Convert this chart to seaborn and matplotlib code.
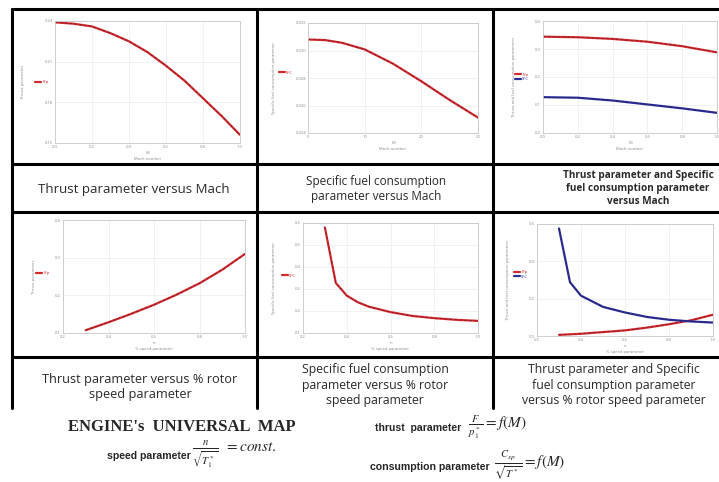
#!/usr/bin/env python3
#===============================================================================
# plot.py
#===============================================================================

# Imports ======================================================================

import argparse
import matplotlib
matplotlib.use('Agg')
import matplotlib.pyplot as plt
import seaborn as sns


# Data =========================================================================

MACH = [0.0, 0.1, 0.2, 0.3, 0.4, 0.5, 0.6, 0.7, 0.8, 0.9, 1.0]
THRUST_MACH = [0.239, 0.238, 0.236, 0.231, 0.225, 0.217, 0.207, 0.196,
               0.183, 0.170, 0.156]

SFC_X = [0, 3, 6, 10, 15, 20, 25, 30]
SFC_MACH = [0.0308, 0.03076, 0.03056, 0.03008, 0.02904, 0.02776, 0.0264,
            0.02512]

MACH_BOTH = [0.0, 0.2, 0.4, 0.6, 0.8, 1.0]
THRUST_BOTH = [0.344, 0.342, 0.336, 0.326, 0.310, 0.288]
SFC_BOTH = [0.128, 0.126, 0.116, 0.102, 0.088, 0.072]

SPEED = [0.3, 0.4, 0.5, 0.6, 0.7, 0.8, 0.9, 1.0]
THRUST_SPEED = [0.1075, 0.1285, 0.151, 0.175, 0.202, 0.232, 0.268, 0.310]

SPEED_SFC = [0.3, 0.35, 0.4, 0.45, 0.5, 0.6, 0.7, 0.8, 0.9, 1.0]
SFC_SPEED = [0.58, 0.3275, 0.27, 0.24, 0.22, 0.195, 0.1775, 0.1675, 0.16,
             0.155]

SPEED_BOTH = [0.3, 0.35, 0.4, 0.5, 0.6, 0.7, 0.8, 0.9, 1.0]
THRUST_SPEED_BOTH = [0.006, 0.009, 0.012, 0.021, 0.030, 0.045, 0.063, 0.084,
                     0.114]
SFC_SPEED_BOTH = [0.576, 0.288, 0.216, 0.156, 0.126, 0.102, 0.087, 0.078,
                  0.072]

CAPTIONS = [
    'Thrust parameter versus Mach',
    'Specific fuel consumption\nparameter versus Mach',
    'Thrust parameter and Specific\nfuel consumption parameter\nversus Mach',
    'Thrust parameter versus % rotor\nspeed parameter',
    'Specific fuel consumption\nparameter versus % rotor\nspeed parameter',
    'Thrust parameter and Specific\nfuel consumption parameter\n'
    'versus % rotor speed parameter',
]

RED = '#d42a2f'
BLUE = '#2b2f9e'
W, H = 719, 482


# Functions ====================================================================

def parse_arguments():
    parser = argparse.ArgumentParser(description='engine universal map')
    parser.add_argument('file', nargs='?', default='out.png',
                        help='path to output file')
    return parser.parse_args()


def box(left, top, right, bottom):
    # pixel box -> figure fraction
    return [left / W, 1 - bottom / H, (right - left) / W, (bottom - top) / H]


def curve(ax, x, y, color, label):
    sns.lineplot(x=x, y=y, ax=ax, color=color, linewidth=1.6, label=label)
    sns.lineplot(x=x, y=y, ax=ax, color='#301018', linewidth=0.5,
                 linestyle=(0, (4, 3)), alpha=0.6)


def panel(fig, rect, series, xticks, yticks, xlabel, ylabel, leg_xy):
    ax = fig.add_axes(rect)
    for x, y, color, label in series:
        curve(ax, x, y, color, label)
    ax.set_xlim(xticks[0], xticks[-1])
    ax.set_ylim(yticks[0], yticks[-1])
    ax.set_xticks(xticks)
    ax.set_yticks(yticks)
    ax.tick_params(labelsize=3, colors='#888888', length=0, pad=1.5)
    ax.grid(color='#ececec', linewidth=0.5)
    for s in ax.spines.values():
        s.set_color('#c8c8c8')
        s.set_linewidth(0.6)
    ax.set_xlabel(xlabel, fontsize=3, color='#888888', labelpad=1.5,
                  linespacing=1.6)
    ax.set_ylabel(ylabel, fontsize=3, color='#888888', labelpad=14)
    handles, labels = ax.get_legend_handles_labels()
    leg = ax.legend(handles, labels, loc='center', bbox_to_anchor=leg_xy,
                    frameon=False, fontsize=3, handlelength=1.4,
                    handletextpad=0.3, labelspacing=0.2, borderpad=0)
    for t, c in zip(leg.get_texts(), [s[2] for s in series]):
        t.set_color(c)
    return ax


def main():
    args = parse_arguments()
    sns.set_theme(style='whitegrid')
    plt.rcParams['font.family'] = ['Open Sans', 'DejaVu Sans']
    plt.rcParams['mathtext.fontset'] = 'stix'
    fig = plt.figure(figsize=(W / 100, H / 100), dpi=100)
    fig.patch.set_facecolor('white')

    mach_x = 'M\nMach number'
    speed_x = 'n\n% speed parameter'
    panel(fig, box(55, 21, 240, 143),
          [(MACH, THRUST_MACH, RED, 'F/p')],
          [0, 0.2, 0.4, 0.6, 0.8, 1], [0.15, 0.18, 0.21, 0.24],
          mach_x, 'Thrust parameter', (-0.07, 0.5))
    panel(fig, box(308, 23, 478, 133),
          [(SFC_X, SFC_MACH, RED, 'SFC')],
          [0, 10, 20, 30], [0.024, 0.026, 0.028, 0.030, 0.032],
          mach_x, 'Specific fuel consumption parameter', (-0.13, 0.55))
    panel(fig, box(543, 21, 717, 133),
          [(MACH_BOTH, THRUST_BOTH, RED, 'F/p'),
           (MACH_BOTH, SFC_BOTH, BLUE, 'SFC')],
          [0, 0.2, 0.4, 0.6, 0.8, 1], [0, 0.1, 0.2, 0.3, 0.4],
          mach_x, 'Thrust and fuel consumption parameters', (-0.12, 0.5))
    panel(fig, box(63, 220, 245, 333),
          [(SPEED, THRUST_SPEED, RED, 'F/p')],
          [0.2, 0.4, 0.6, 0.8, 1], [0.1, 0.2, 0.3, 0.4],
          speed_x, 'Thrust parameter', (-0.11, 0.53))
    panel(fig, box(303, 223, 478, 333),
          [(SPEED_SFC, SFC_SPEED, RED, 'SFC')],
          [0.2, 0.4, 0.6, 0.8, 1], [0.1, 0.2, 0.3, 0.4, 0.5, 0.6],
          speed_x, 'Specific fuel consumption parameter', (-0.08, 0.52))
    panel(fig, box(537, 224, 713, 336),
          [(SPEED_BOTH, THRUST_SPEED_BOTH, RED, 'F/p'),
           (SPEED_BOTH, SFC_SPEED_BOTH, BLUE, 'SFC')],
          [0.2, 0.4, 0.6, 0.8, 1], [0, 0.2, 0.4, 0.6],
          speed_x, 'Thrust and fuel consumption parameters', (-0.09, 0.55))

    # table grid
    line = dict(color='black', linewidth=2.2, transform=None)
    for y in (9, 164, 212, 357):
        fig.add_artist(plt.Line2D([12, W], [H - y, H - y], **line))
    for x in (12, 257, 493):
        fig.add_artist(plt.Line2D([x, x], [H - 9, H - 408], **line))

    # captions
    cap = dict(ha='center', va='center', color='#2a2a2a', linespacing=1.25)
    fig.text(134 / W, 1 - 190 / H, CAPTIONS[0], fontsize=9.5, **cap)
    fig.text(376 / W, 1 - 189 / H, CAPTIONS[1], fontsize=8.5, **cap)
    fig.text(638 / W, 1 - 189 / H, CAPTIONS[2], fontsize=7.2,
             fontweight='bold', **cap)
    fig.text(140 / W, 1 - 387 / H, CAPTIONS[3], fontsize=9.2, **cap)
    fig.text(375 / W, 1 - 385 / H, CAPTIONS[4], fontsize=8.8, **cap)
    fig.text(614 / W, 1 - 385 / H, CAPTIONS[5], fontsize=8.8, **cap)

    # engine universal map
    fig.text(68 / W, 1 - 427 / H, "ENGINE's  UNIVERSAL  MAP",
             fontsize=12, fontweight='bold', family='Liberation Serif',
             va='center')
    bold = dict(fontsize=7.6, fontweight='bold', va='center',
                family=['Liberation Sans Narrow', 'Liberation Sans'])
    fig.text(107 / W, 1 - 456 / H, 'speed parameter', **bold)
    fig.text(192 / W, 1 - 455 / H, r'$\frac{n}{\sqrt{T_1^*}}\;\;= const.$',
             fontsize=11, va='center')
    fig.text(375 / W, 1 - 428 / H, 'thrust  parameter', **bold)
    fig.text(468 / W, 1 - 427 / H, r'$\frac{F}{p_1^*} = f(M)$',
             fontsize=11, va='center')
    fig.text(370 / W, 1 - 467 / H, 'consumption parameter', **bold)
    fig.text(494 / W, 1 - 466 / H, r'$\frac{C_{sp}}{\sqrt{T^*}} = f(M)$',
             fontsize=11, va='center')

    fig.savefig(args.file, dpi=100)


# Execute ======================================================================

if __name__ == '__main__':
    main()
